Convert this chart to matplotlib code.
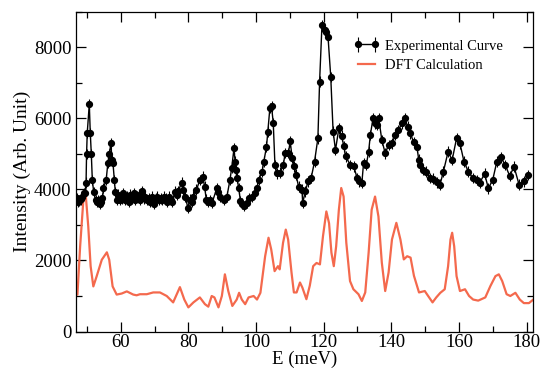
import matplotlib
matplotlib.use("Agg")
import matplotlib.pyplot as plt
from matplotlib.ticker import MultipleLocator

# experimental points (meV, intensity)
exp_e = [47.0, 47.4, 47.8, 48.2, 48.6, 49.0, 49.45, 49.75, 49.9, 50.1, 50.7, 51.0, 51.3, 51.6, 52.0, 52.6,
         53.0, 53.4, 53.8, 54.2, 54.6, 54.9, 55.7, 56.2, 56.6, 57.1, 57.4, 57.7, 58.1, 58.4, 58.9,
         59.3, 59.8, 60.3, 60.8, 61.3, 61.8, 62.3, 62.8, 63.3, 63.8, 64.3, 64.8, 65.3, 65.8, 66.3, 66.8,
         67.3, 67.8, 68.3, 68.8, 69.3, 69.8, 70.3, 70.8, 71.3, 71.8, 72.3, 72.8, 73.3, 73.8, 74.3, 74.8,
         75.3, 76.0, 76.5, 77.0, 78.0, 78.5, 79.0, 79.9, 80.4, 81.0, 81.5, 82.4, 83.4, 84.3, 84.8, 85.3,
         85.8, 86.4, 87.0, 88.4, 88.8, 89.4, 90.4, 91.4, 92.3, 92.8, 93.5, 93.8, 94.0, 94.4, 94.9, 95.4,
         95.9, 96.4, 97.4, 98.0, 98.9, 99.8, 100.3, 100.8, 101.8, 102.3, 103.1, 103.5, 104.1, 104.6,
         105.1, 105.6, 106.2, 107.1, 108.1, 108.6, 109.6, 110.1, 110.7, 111.3, 111.8, 112.6, 113.6,
         113.8, 114.6, 115.4, 116.3, 117.3, 118.3, 118.8, 119.5, 120.3, 120.8, 121.3, 122.1, 122.8,
         123.5, 124.5, 125.3, 126.0, 126.5, 127.9, 128.9, 129.9, 130.6, 131.3, 131.8, 132.6, 133.3,
         133.8, 134.6, 135.3, 135.8, 136.3, 137.2, 138.2, 139.2, 140.2, 141.2, 142.1, 143.1, 144.1,
         144.8, 145.6, 146.6, 147.6, 148.1, 148.4, 149.4, 150.4, 151.4, 152.4, 153.4, 154.4, 155.4,
         156.8, 158.0, 159.3, 160.3, 161.5, 162.8, 164.1, 165.2, 166.1, 167.6, 168.7, 170.0, 171.2,
         172.4, 173.7, 175.0, 176.3, 177.8, 179.2, 180.5]
exp_i = [3750, 3650, 3680, 3720, 3800, 3900, 3900, 4190, 5000, 5590, 6400, 5590, 5000, 4270, 3930, 3700,
         3650, 3700, 3600, 3650, 3750, 4040, 4270, 4750, 5000, 5300, 4830, 4750, 4270, 3930, 3700,
         3850, 3700, 3750, 3900, 3700, 3800, 3650, 3850, 3750, 3900, 3700, 3800, 3850, 3700, 3950, 3750,
         3800, 3700, 3750, 3650, 3800, 3600, 3750, 3800, 3700, 3750, 3700, 3800, 3750, 3650, 3800, 3700,
         3650, 3940, 3850, 3950, 4190, 3990, 3800, 3480, 3710, 3650, 3800, 3990, 4270, 4360, 4080, 3710,
         3650, 3700, 3620, 4030, 3930, 3800, 3700, 3800, 4270, 4600, 5160, 4780, 4550, 4320, 4030, 3670,
         3600, 3530, 3620, 3750, 3800, 3900, 4050, 4270, 4500, 4780, 5200, 5630, 6290, 6340,
         5870, 4690, 4450, 4470, 4690, 5030, 5030, 5350, 4890, 4650, 4420, 4080, 3990,
         3620, 3950, 4230, 4320, 4780, 5440, 7030, 8620, 8480, 8430, 8290, 7170, 5630,
         5110, 5720, 5510, 5210, 4930, 4690, 4650, 4320, 4230, 4180, 4740, 4690, 5060,
         5530, 6000, 5860, 5810, 6000, 5390, 5020, 5250, 5300, 5530, 5670, 5860, 6000,
         5770, 5580, 5340, 5200, 4840, 4690, 4550, 4500, 4320, 4300, 4200, 4130, 4500,
         5060, 4830, 5440, 5300, 4780, 4500, 4320, 4270, 4180, 4440, 4030, 4270, 4780,
         4900, 4690, 4380, 4640, 4130, 4230, 4410]
exp_err = 150

# DFT calculation curve
dft_e = [46.9, 47.2, 48.0, 48.95, 49.65, 50.4, 51.1, 51.9, 52.9, 54.4, 55.9, 56.6, 57.6, 58.8, 60.3,
         61.8, 63.7, 64.7, 65.7, 67.7, 69.6, 71.6, 73.6, 75.5, 77.5, 78.8, 80.0, 81.5, 83.4, 84.9,
         85.9, 86.9, 87.7, 88.9, 89.9, 90.8, 91.8, 93.0, 94.3, 95.0, 95.8, 96.8, 97.8, 99.3, 100.3,
         101.3, 102.7, 103.7, 104.5, 105.5, 106.5, 107.0, 108.0, 108.8, 109.5, 110.5, 111.2, 112.0,
         113.0, 113.7, 114.9, 115.9, 116.9, 117.9, 118.9, 119.8, 120.8, 121.6, 122.3, 123.0, 123.7,
         124.5, 125.2, 125.9, 126.7, 127.8, 128.8, 130.3, 131.3, 132.3, 133.3, 134.2, 135.2, 136.2,
         137.2, 138.2, 139.2, 140.2, 141.5, 142.7, 143.7, 144.7, 145.7, 146.7, 148.2, 149.9, 150.9,
         152.2, 153.3, 154.5, 155.8, 156.8, 157.5, 158.0, 158.6, 159.3, 160.3, 161.8, 163.0, 164.2,
         165.7, 167.8, 169.3, 170.8, 171.8, 172.8, 174.1, 175.2, 176.7, 178.0, 179.2, 180.7, 182.0]
dft_i = [1030, 1040, 2400, 3700, 3850, 2960, 1840, 1270, 1560, 2020, 2230, 2020, 1270, 1040, 1070,
         1130, 1040, 1020, 1050, 1050, 1100, 1100, 1000, 820, 1250, 900, 680, 820, 960, 770,
         700, 1000, 960, 680, 1000, 1610, 1140, 720, 900, 1090, 900, 770, 960, 1000, 900,
         1090, 2120, 2640, 2310, 1700, 1840, 1750, 2500, 2870, 2590, 1660, 1100, 1100,
         1380, 1240, 910, 1290, 1840, 1930, 1890, 2680, 3380, 3050, 2220, 1840, 2400,
         3430, 4040, 3800, 2500, 1420, 1190, 1050, 860, 1100, 2220, 3430, 3800, 3240,
         1940, 1140, 1660, 2590, 3060, 2590, 2030, 2120, 2080, 1570, 1100, 1140, 1000,
         820, 960, 1090, 1190, 1840, 2590, 2780, 2400, 1560, 1140, 1190, 1000, 900,
         870, 960, 1280, 1560, 1610, 1420, 1050, 1000, 1090, 900, 800, 800, 900]

plt.rcParams['font.family'] = ['Liberation Serif', 'DejaVu Serif']

fig = plt.figure(figsize=(5.42, 3.70), dpi=100)
ax = fig.add_axes([0.141, 0.104, 0.843, 0.864])

h1 = ax.errorbar(exp_e, exp_i, yerr=exp_err, color='black', marker='o', markersize=4.2, lw=1.0,
                 elinewidth=0.8, capsize=0, label='Experimental Curve', zorder=3)
h2, = ax.plot(dft_e, dft_i, color='#f4694d', lw=1.6, label='DFT Calculation', zorder=2)

ax.set_xlim(46.9, 182)
ax.set_ylim(0, 9000)
ax.xaxis.set_major_locator(MultipleLocator(20))
ax.xaxis.set_minor_locator(MultipleLocator(10))
ax.yaxis.set_major_locator(MultipleLocator(2000))
ax.yaxis.set_minor_locator(MultipleLocator(1000))
ax.tick_params(which='both', direction='in', top=True, right=True, labelsize=13.5)
ax.tick_params(axis='x', pad=1.5)
ax.tick_params(which='major', length=7, width=0.9)
ax.tick_params(which='minor', length=4, width=0.9)
for s in ax.spines.values():
    s.set_linewidth(0.9)

ax.set_xlabel('E (meV)', fontsize=13.5, labelpad=0)
ax.set_ylabel('Intensity (Arb. Unit)', fontsize=14, labelpad=2)

ax.legend([h1, h2], ['Experimental Curve', 'DFT Calculation'], loc='upper left',
          bbox_to_anchor=(0.577, 0.955), frameon=False, fontsize=10.5,
          handlelength=1.8, handletextpad=0.4, labelspacing=0.45, numpoints=2)

fig.savefig('out.png', dpi=100)
